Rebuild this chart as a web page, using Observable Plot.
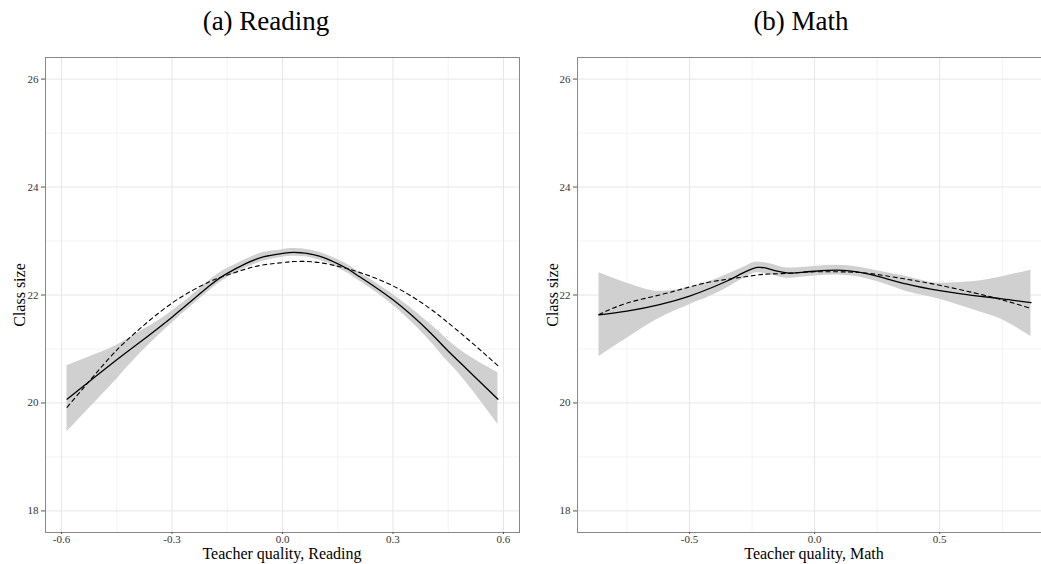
<!DOCTYPE html>
<html>
<head>
<meta charset="utf-8">
<script src="https://cdn.jsdelivr.net/npm/d3@7"></script>
<script src="https://cdn.jsdelivr.net/npm/@observablehq/plot@0.6"></script>
<style>
  html, body { margin: 0; padding: 0; background: #fff; width: 1041px; height: 564px; overflow: hidden; }
  #root { position: relative; width: 1041px; height: 564px; font-family: "Liberation Serif", serif; color: #000; }
  .panel { position: absolute; top: 40px; height: 524px; overflow: hidden; }
  .panel svg { max-width: none !important; height: 524px !important; display: block; }
  .lbl { position: absolute; white-space: nowrap; transform: translate(-50%, -50%); font-family: "Liberation Serif", serif; }
  .title { font-size: 27px; }
  .axt { font-size: 16px; }
  .yt { transform: translate(-50%, -50%) rotate(-90deg); }
</style>
</head>
<body>
<div id="root">
  <div class="lbl title" style="left:266px; top:21px;">(a) Reading</div>
  <div class="lbl title" style="left:801px; top:21px;">(b) Math</div>
  <div class="panel" id="left" style="left:0px; width:530px;"></div>
  <div class="panel" id="right" style="left:530px; width:511px;"></div>
  <div class="lbl axt" style="left:282px; top:554px;">Teacher quality, Reading</div>
  <div class="lbl axt" style="left:814px; top:554px;">Teacher quality, Math</div>
  <div class="lbl axt yt" style="left:20px; top:295px;">Class size</div>
  <div class="lbl axt yt" style="left:553px; top:295px;">Class size</div>
</div>
<script>
// ---- Reading panel data ----
const readX     = [-0.585, -0.5, -0.45, -0.4, -0.3, -0.2, -0.15, -0.1, -0.05, 0, 0.03, 0.1, 0.175, 0.2, 0.3, 0.4, 0.447, 0.5, 0.585];
const readLoess = [20.07, 20.53, 20.80, 21.06, 21.59, 22.16, 22.40, 22.58, 22.71, 22.77, 22.79, 22.72, 22.49, 22.38, 21.91, 21.31, 20.98, 20.63, 20.07];
const readQuad  = [19.92, 20.60, 20.98, 21.30, 21.85, 22.24, 22.37, 22.48, 22.56, 22.60, 22.62, 22.60, 22.49, 22.44, 22.17, 21.75, 21.50, 21.20, 20.69];
const readLo    = [19.47, 20.08, 20.44, 20.82, 21.48, 22.07, 22.32, 22.50, 22.63, 22.70, 22.72, 22.65, 22.41, 22.30, 21.81, 21.15, 20.78, 20.37, 19.60];
const readHi    = [20.69, 20.92, 21.07, 21.27, 21.70, 22.26, 22.49, 22.66, 22.79, 22.84, 22.86, 22.79, 22.57, 22.46, 22.01, 21.47, 21.18, 20.90, 20.56];

// ---- Math panel data ----
const mathX     = [-0.862, -0.75, -0.62, -0.5, -0.42, -0.35, -0.29, -0.23, -0.18, -0.11, -0.05, 0.0, 0.09, 0.17, 0.25, 0.37, 0.5, 0.637, 0.75, 0.865];
const mathLoess = [21.63, 21.70, 21.82, 21.98, 22.12, 22.26, 22.40, 22.51, 22.48, 22.41, 22.42, 22.44, 22.46, 22.43, 22.35, 22.20, 22.08, 21.99, 21.93, 21.86];
const mathQuad  = [21.64, 21.85, 22.00, 22.15, 22.24, 22.29, 22.33, 22.37, 22.39, 22.40, 22.42, 22.43, 22.43, 22.42, 22.38, 22.29, 22.18, 22.04, 21.91, 21.75];
const mathLo    = [20.86, 21.20, 21.57, 21.82, 21.97, 22.13, 22.29, 22.41, 22.38, 22.31, 22.33, 22.35, 22.37, 22.34, 22.25, 22.06, 21.92, 21.72, 21.54, 21.23];
const mathHi    = [22.41, 22.22, 22.07, 22.14, 22.25, 22.38, 22.50, 22.61, 22.58, 22.50, 22.51, 22.53, 22.55, 22.52, 22.45, 22.34, 22.22, 22.25, 22.34, 22.46];

// ---- Axes ----
const yTicks      = [18, 20, 22, 24, 26];
const yMinor      = [19, 21, 23, 25];
const readXTicks  = [-0.6, -0.3, 0.0, 0.3, 0.6];
const readXMinor  = [-0.45, -0.15, 0.15, 0.45];
const mathXTicks  = [-0.5, 0.0, 0.5];
const mathXMinor  = [-0.75, -0.25, 0.25, 0.75];

const yDomain = [17.6, 26.4];
const fmt = d => d.toFixed(1);

function rows(xs, loess, quad, lo, hi) {
  return xs.map((x, i) => ({x, loess: loess[i], quad: quad[i], lo: lo[i], hi: hi[i]}));
}

function panel({data, xDomain, xTicks, xMinor, width, marginLeft, marginRight, bandCurve}) {
  return Plot.plot({
    width, height: 524,
    marginLeft, marginRight, marginTop: 17, marginBottom: 32,
    x: {domain: xDomain},
    y: {domain: yDomain},
    style: {fontFamily: "Liberation Serif, serif", fontSize: "11px", color: "#333", background: "transparent", overflow: "visible"},
    marks: [
      Plot.gridX({ticks: xMinor, stroke: "#f3f3f3", strokeOpacity: 1}),
      Plot.gridY({ticks: yMinor, stroke: "#f3f3f3", strokeOpacity: 1}),
      Plot.gridX({ticks: xTicks, stroke: "#e6e6e6", strokeOpacity: 1}),
      Plot.gridY({ticks: yTicks, stroke: "#e6e6e6", strokeOpacity: 1}),
      Plot.areaY(data, {x: "x", y1: "lo", y2: "hi", fill: "#d0d0d0", curve: bandCurve}),
      Plot.line(data, {x: "x", y: "quad", stroke: "#000", strokeWidth: 1.1, strokeDasharray: "4,3.5", curve: "natural"}),
      Plot.line(data, {x: "x", y: "loess", stroke: "#000", strokeWidth: 1.3, curve: "natural"}),
      Plot.frame({stroke: "#888", strokeWidth: 1}),
      Plot.axisX({ticks: xTicks, tickFormat: fmt, tickSize: 2, tickPadding: 1, label: null, stroke: "#555", fill: "#333"}),
      Plot.axisY({ticks: yTicks, tickSize: 4, tickPadding: 3, label: null, stroke: "#555", fill: "#333"})
    ]
  });
}

document.getElementById("left").append(panel({
  data: rows(readX, readLoess, readQuad, readLo, readHi),
  xDomain: [-0.6435, 0.6435], xTicks: readXTicks, xMinor: readXMinor,
  width: 530, marginLeft: 45, marginRight: 11, bandCurve: "natural"
}));

document.getElementById("right").append(panel({
  data: rows(mathX, mathLoess, mathQuad, mathLo, mathHi),
  xDomain: [-0.948, 0.951], xTicks: mathXTicks, xMinor: mathXMinor,
  width: 527, marginLeft: 47, marginRight: 5, bandCurve: "monotone-x"
}));
</script>
</body>
</html>
